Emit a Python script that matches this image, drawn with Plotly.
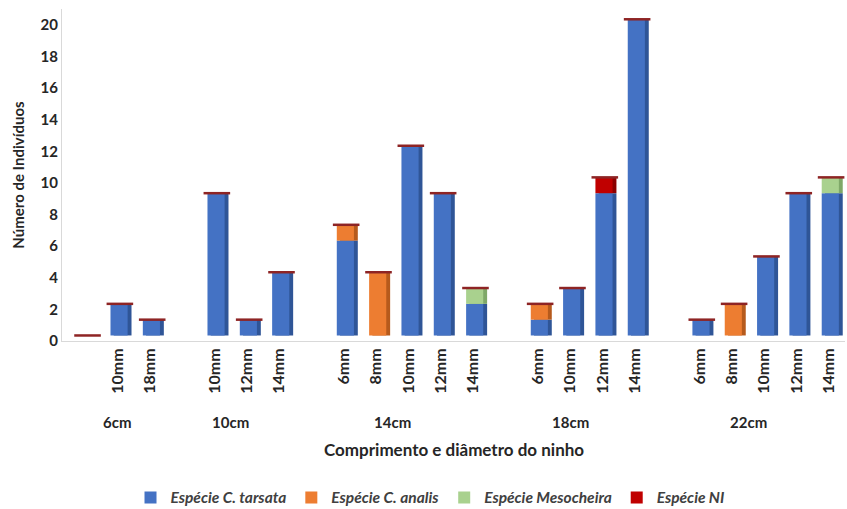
import plotly.graph_objects as go

# ---- data ----
groups = ["6cm", "10cm", "14cm", "18cm", "22cm"]
diameters = [
    ["", "10mm", "18mm"],
    ["10mm", "12mm", "14mm"],
    ["6mm", "8mm", "10mm", "12mm", "14mm"],
    ["6mm", "10mm", "12mm", "14mm"],
    ["6mm", "8mm", "10mm", "12mm", "14mm"],
]
tarsata = [0, 2, 1, 9, 1, 4, 6, 0, 12, 9, 2, 1, 3, 9, 20, 1, 0, 5, 9, 9]
analis = [0, 0, 0, 0, 0, 0, 1, 4, 0, 0, 0, 1, 0, 0, 0, 0, 2, 0, 0, 0]
mesocheira = [0, 0, 0, 0, 0, 0, 0, 0, 0, 0, 1, 0, 0, 0, 0, 0, 0, 0, 0, 1]
ni = [0, 0, 0, 0, 0, 0, 0, 0, 0, 0, 0, 0, 0, 1, 0, 0, 0, 0, 0, 0]

series_names = ["Espécie C. tarsata", "Espécie C. analis", "Espécie Mesocheira", "Espécie NI"]
series_vals = [tarsata, analis, mesocheira, ni]
colors = ["#4472C4", "#ED7D31", "#A9D18E", "#C00000"]
side_colors = ["#2F5597", "#B65A1C", "#7FA868", "#8B0000"]
cap_color = "#8E2424"

FLOOR = 0.35  # visual floor offset of the 3-D style columns

# ---- category positions (one empty slot between groups) ----
xpos, ticktext, group_centers = [], [], []
pos = 0
for gi, dl in enumerate(diameters):
    start = pos
    if gi > 0:
        pos += 1
    for d in dl:
        xpos.append(pos)
        ticktext.append(d)
        pos += 1
    group_centers.append((start + pos - 1) / 2)

fig = go.Figure()
bases = []
cum = [FLOOR] * len(xpos)
for vals in series_vals:
    bases.append(list(cum))
    cum = [a + b for a, b in zip(cum, vals)]
totals = cum

# darker side faces (drawn first, shifted right)
for name, vals, b, sc in zip(series_names, series_vals, bases, side_colors):
    fig.add_trace(go.Bar(
        x=xpos, y=vals, base=b, name=name, showlegend=False, hoverinfo="skip",
        marker=dict(color=sc, line=dict(width=0)),
        width=0.55, offset=-0.12,
    ))
# front faces
for name, vals, b, c in zip(series_names, series_vals, bases, colors):
    fig.add_trace(go.Bar(
        x=xpos, y=vals, base=b, name="<b><i>%s</i></b>" % name,
        marker=dict(color=c, line=dict(width=0)),
        width=0.53, offset=-0.22,
    ))
# top faces of the 3-D columns (top series' cap)
fig.add_trace(go.Scatter(
    x=[x + 0.07 for x in xpos], y=totals, mode="markers", showlegend=False,
    hoverinfo="skip",
    marker=dict(symbol="line-ew", size=19, line=dict(color=cap_color, width=2.5)),
))

font_family = "Lato, 'Open Sans', sans-serif"

for gname, gc in zip(groups, group_centers):
    fig.add_annotation(x=gc, y=0, xref="x", yref="paper", yshift=-81,
                       text="<b>%s</b>" % gname, showarrow=False,
                       font=dict(size=15, color="#262626", family=font_family),
                       xanchor="center", yanchor="middle")

fig.add_annotation(x=0.5, y=0, xref="paper", yref="paper", yshift=-108,
                   text="<b>Comprimento e diâmetro do ninho</b>", showarrow=False,
                   font=dict(size=17, color="#262626", family=font_family),
                   xanchor="center", yanchor="middle")

fig.update_layout(
    width=847, height=509,
    margin=dict(l=62, r=2, t=9, b=168, autoexpand=False),
    barmode="overlay",
    plot_bgcolor="white", paper_bgcolor="white",
    font=dict(family=font_family, color="#262626"),
    showlegend=True,
    legend=dict(orientation="h", x=0.47, xanchor="center",
                yref="container", y=0.022, yanchor="middle",
                font=dict(size=15.5, color="#404040", family=font_family),
                traceorder="normal", itemwidth=30, bgcolor="rgba(0,0,0,0)"),
    xaxis=dict(
        range=[-0.72, 23.5], automargin=False,
        tickmode="array", tickvals=xpos,
        ticktext=["<b>%s</b>" % t for t in ticktext],
        tickangle=-90, tickfont=dict(size=16, color="#262626"),
        showline=True, linecolor="#D9D9D9", linewidth=1,
        showgrid=False, zeroline=False, ticks="", ticklen=0,
    ),
    yaxis=dict(
        range=[0, 21], tickmode="linear", tick0=0, dtick=2, automargin=False,
        tickfont=dict(size=15, color="#262626"),
        tickprefix="<b>", ticksuffix="</b>",
        showline=True, linecolor="#D9D9D9", linewidth=1,
        showgrid=False, zeroline=False, ticks="",
        title=dict(text="<b>Número de Indivíduos</b>", font=dict(size=15, color="#262626"),
                   standoff=12),
    ),
)

fig.write_html("out.html")
